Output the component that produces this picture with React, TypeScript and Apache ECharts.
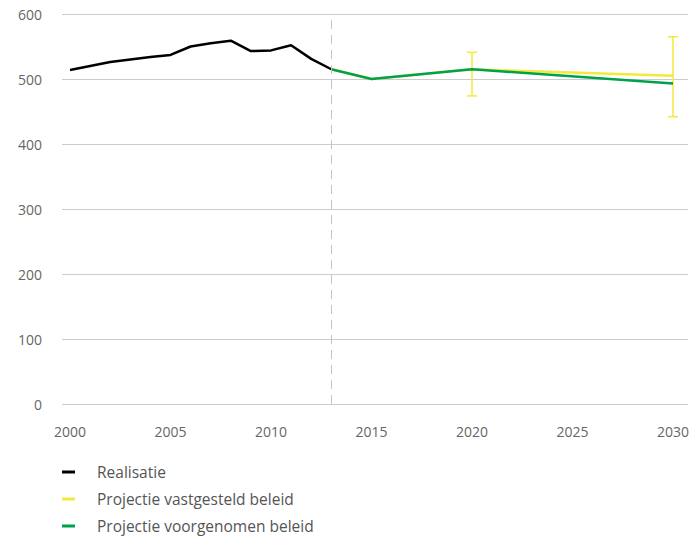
import React, { useEffect, useRef } from "react";
import * as echarts from "echarts";

const realYears = [2000, 2001, 2002, 2003, 2004, 2005, 2006, 2007, 2008, 2009, 2010, 2011, 2012, 2013];
const realValues = [514, 520, 526, 530, 534, 537, 550, 555, 559, 543, 544, 552, 531, 515];
const projYears = [2013, 2015, 2020, 2030];
const vastgesteldValues = [515, 500, 515, 505];
const voorgenomenValues = [515, 500, 515, 493];
const errYears = [2020, 2030];
const errLow = [474, 442];
const errHigh = [541, 565];
const yearTicks = [2000, 2005, 2010, 2015, 2020, 2025, 2030];
const seriesNames = ["Realisatie", "Projectie vastgesteld beleid", "Projectie voorgenomen beleid"];
const colors = ["#000000", "#f5e83c", "#00a14b"];

const FONT = "'Open Sans', sans-serif";

export default function App() {
  const ref = useRef<HTMLDivElement>(null);
  useEffect(() => {
    if (!ref.current) return;
    const chart = echarts.init(ref.current, null, { renderer: "svg" });
    const pair = (xs: number[], ys: number[]) => xs.map((x, i) => [x, ys[i]]);
    chart.setOption({
      animation: false,
      textStyle: { fontFamily: FONT },
      grid: [
        { left: 62, right: 7, top: 14, bottom: 135 },
        { left: 70, right: 22, top: 14, bottom: 135 },
      ],
      xAxis: [
        { gridIndex: 0, type: "value", min: 0, max: 1, show: false },
        {
          gridIndex: 1,
          type: "value",
          min: yearTicks[0],
          max: yearTicks[yearTicks.length - 1],
          interval: 5,
          axisLine: { show: false },
          axisTick: { show: false },
          splitLine: { show: false },
          axisLabel: {
            margin: 20,
            color: "#666",
            fontSize: 14,
            fontFamily: FONT,
            formatter: (v: number) => String(v),
          },
        },
      ],
      yAxis: [
        {
          gridIndex: 0,
          type: "value",
          min: 0,
          max: 600,
          interval: 100,
          axisLine: { show: false },
          axisTick: { show: false },
          splitLine: { lineStyle: { color: "#cccccc", width: 1 } },
          axisLabel: { margin: 20, color: "#666", fontSize: 14, fontFamily: FONT },
        },
        { gridIndex: 1, type: "value", min: 0, max: 600, show: false },
      ],
      legend: {
        orient: "vertical",
        left: 62,
        top: 464,
        width: 400,
        height: 120,
        padding: 0,
        itemGap: 11,
        itemWidth: 13,
        itemHeight: 3,
        icon: "rect",
        data: seriesNames,
        textStyle: { color: "#555", fontSize: 15.5, padding: [0, 0, 0, 17], fontFamily: FONT },
      },
      series: [
        {
          type: "custom",
          name: "err",
          xAxisIndex: 1,
          yAxisIndex: 1,
          data: errYears.map((y, i) => [y, errLow[i], errHigh[i]]),
          encode: { x: 0, y: [1, 2] },
          renderItem: (params: any, api: any) => {
            const x = api.value(0);
            const lo = api.coord([x, api.value(1)]);
            const hi = api.coord([x, api.value(2)]);
            const w = 5;
            const style = { stroke: colors[1], lineWidth: 1.5 };
            return {
              type: "group",
              children: [
                { type: "line", shape: { x1: lo[0], y1: lo[1], x2: hi[0], y2: hi[1] }, style },
                { type: "line", shape: { x1: lo[0] - w, y1: lo[1], x2: lo[0] + w, y2: lo[1] }, style },
                { type: "line", shape: { x1: hi[0] - w, y1: hi[1], x2: hi[0] + w, y2: hi[1] }, style },
              ],
            };
          },
        },
        {
          type: "line",
          name: seriesNames[0],
          xAxisIndex: 1,
          yAxisIndex: 1,
          data: pair(realYears, realValues),
          showSymbol: false,
          symbol: "none",
          color: colors[0],
          lineStyle: { width: 2.5, color: colors[0] },
          markLine: {
            silent: true,
            symbol: "none",
            label: { show: false },
            lineStyle: { type: [9, 6], color: "#c4c4c4", width: 1 },
            data: [{ xAxis: 2013 }],
          },
        },
        {
          type: "line",
          name: seriesNames[1],
          xAxisIndex: 1,
          yAxisIndex: 1,
          data: pair(projYears, vastgesteldValues),
          symbol: "none",
          color: colors[1],
          lineStyle: { width: 2.5, color: colors[1] },
        },
        {
          type: "line",
          name: seriesNames[2],
          xAxisIndex: 1,
          yAxisIndex: 1,
          data: pair(projYears, voorgenomenValues),
          symbol: "none",
          color: colors[2],
          lineStyle: { width: 2.5, color: colors[2] },
        },
      ],
    });
    return () => chart.dispose();
  }, []);
  return <div ref={ref} style={{ width: 695, height: 539, position: "absolute", left: 0, top: 0 }} />;
}
